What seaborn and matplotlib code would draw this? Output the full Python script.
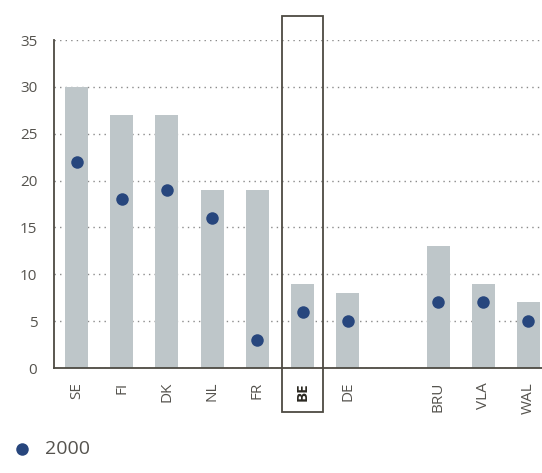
import matplotlib
matplotlib.use("Agg")
import matplotlib.pyplot as plt
from matplotlib.patches import Rectangle
import seaborn as sns
import pandas as pd

# data
countries = ["SE", "FI", "DK", "NL", "FR", "BE", "DE", "BRU", "VLA", "WAL"]
bar_values = [30, 27, 27, 19, 19, 9, 8, 13, 9, 7]
dot_values = [22, 18, 19, 16, 3, 6, 5, 7, 7, 5]
legend_label = "2000"

# empty slot between national and regional groups
order = countries[:7] + [" "] + countries[7:]

df = pd.DataFrame({"land": countries, "bar": bar_values, "dot": dot_values})

sns.set_style("white")
plt.rcParams["font.family"] = ["Open Sans", "DejaVu Sans"]

bar_col = "#bec6c9"
dot_col = "#27467d"
axis_col = "#4d4a42"
text_col = "#55534e"

fig = plt.figure(figsize=(5.42, 4.73), dpi=100)
ax = fig.add_axes([54 / 542, 105 / 473, 1 - 54 / 542, 328 / 473])

sns.barplot(data=df, x="land", y="bar", order=order, color=bar_col,
            width=0.51, saturation=1, linewidth=0, ax=ax)
sns.stripplot(data=df, x="land", y="dot", order=order, color=dot_col,
              jitter=False, size=9, linewidth=0, ax=ax, label=legend_label,
              zorder=3)

ax.set_xlim(-0.5, 10.3)
ax.set_ylim(0, 35)
ax.set_yticks(range(0, 36, 5))
ax.set_xlabel("")
ax.set_ylabel("")

# grid
ax.grid(axis="y", linestyle=(0, (1, 3)), color="#8a8a8a", linewidth=1)
ax.set_axisbelow(True)

for s in ["top", "right"]:
    ax.spines[s].set_visible(False)
for s in ["left", "bottom"]:
    ax.spines[s].set_color(axis_col)
    ax.spines[s].set_linewidth(1.3)

ax.tick_params(axis="y", direction="out", length=7, width=1, color=axis_col,
               labelcolor=text_col, labelsize=11, pad=5)
ax.tick_params(axis="x", which="major", length=0, pad=10, labelsize=11,
               labelcolor=text_col)
ax.set_xticks(range(len(order)))
ax.set_xticklabels(order, rotation=90)
for lbl in ax.get_xticklabels():
    if lbl.get_text() == "BE":
        lbl.set_fontweight("bold")
        lbl.set_color("#2b2922")

# separators between categories
ax.set_xticks([i + 0.5 for i in range(len(order) - 1)], minor=True)
ax.tick_params(axis="x", which="minor", direction="in", length=7, width=1,
               color=axis_col)

# highlight box around BE
be = order.index("BE")
ax.add_patch(Rectangle((be - 0.46, -4.7), 0.92, 42.3, fill=False,
                       edgecolor=axis_col, linewidth=1.3, clip_on=False,
                       zorder=4))

handles, labels = ax.get_legend_handles_labels()
ax.legend(handles[:1], labels[:1], loc="center left",
          bbox_to_anchor=(12 / 542, 24 / 473), bbox_transform=fig.transFigure,
          frameon=False, fontsize=14, labelcolor=text_col, handletextpad=0.7,
          handlelength=1, borderpad=0, borderaxespad=0)

fig.savefig("out.png", dpi=100)
